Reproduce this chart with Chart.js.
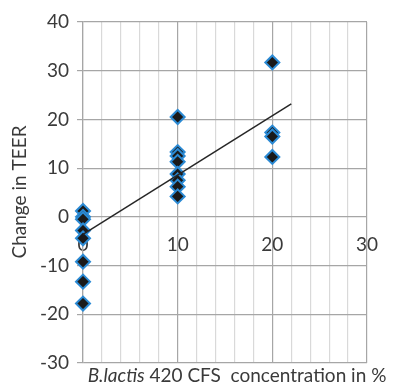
<!DOCTYPE html>
<html>
<head>
<meta charset="utf-8">
<script src="https://cdn.jsdelivr.net/npm/chart.js@4/dist/chart.umd.min.js"></script>
<style>
html,body{margin:0;padding:0;background:#fff;}
#wrap{width:396px;height:389px;position:relative;}
</style>
</head>
<body>
<div id="wrap"><canvas id="c" width="396" height="389"></canvas></div>
<script>
// Concentration (%) per group and measured change in TEER
const conc0 = [1.2, 0, -0.5, -2.8, -4.4, -9.2, -13.3, -17.8];
const conc10 = [20.5, 13.3, 12.5, 11.3, 8.8, 7.5, 6.2, 4.2];
const conc20 = [31.7, 17.3, 16.5, 12.3];
const trendX = [0, 22];
const trendY = [-3.6, 23.2];
const yTicks = [-30, -20, -10, 0, 10, 20, 30, 40];
const xTickLabels = [0, 10, 20, 30];
const yTitle = 'Change in TEER';
const xTitleItalic = 'B.lactis';
const xTitleRest = ' 420 CFS  concentration in %';

const pts = [];
conc0.forEach(v => pts.push({x: 0, y: v}));
conc10.forEach(v => pts.push({x: 10, y: v}));
conc20.forEach(v => pts.push({x: 20, y: v}));
const trend = trendX.map((x, i) => ({x: x, y: trendY[i]}));

const FONT = 'Lato, "Liberation Sans", sans-serif';
const TXT = '#3a3a3a';

const titles = {
  id: 'titles',
  afterDraw(chart) {
    const ctx = chart.ctx;
    ctx.save();
    ctx.fillStyle = TXT;
    // x title
    ctx.textBaseline = 'alphabetic';
    ctx.textAlign = 'left';
    ctx.font = 'italic 19px ' + FONT;
    const w1 = ctx.measureText(xTitleItalic).width;
    ctx.font = '19px ' + FONT;
    const w2 = ctx.measureText(xTitleRest).width;
    let x0 = 237 - (w1 + w2) / 2;
    ctx.font = 'italic 19px ' + FONT;
    ctx.fillText(xTitleItalic, x0, 382);
    ctx.font = '19px ' + FONT;
    ctx.fillText(xTitleRest, x0 + w1, 382);
    // y title
    ctx.translate(20, 192);
    ctx.rotate(-Math.PI / 2);
    ctx.textAlign = 'center';
    ctx.textBaseline = 'middle';
    ctx.font = '19px ' + FONT;
    ctx.fillText(yTitle, 0, 0);
    ctx.restore();
  }
};

new Chart(document.getElementById('c'), {
  type: 'scatter',
  data: {
    datasets: [
      {
        type: 'line',
        data: trend,
        borderColor: '#262626',
        borderWidth: 1.5,
        pointRadius: 0,
        fill: false,
        clip: false
      },
      {
        data: pts,
        pointStyle: 'rectRot',
        pointRadius: 7,
        pointHoverRadius: 7,
        borderWidth: 2,
        borderColor: '#2b8ad4',
        backgroundColor: '#1a1a1a',
        clip: false
      }
    ]
  },
  options: {
    responsive: false,
    animation: false,
    events: [],
    layout: {padding: {left: 0, right: 29, top: 22, bottom: 26}},
    plugins: {legend: {display: false}, tooltip: {enabled: false}},
    scales: {
      x: {
        type: 'linear',
        position: {y: 0},
        min: 0, max: 30,
        border: {display: false},
        grid: {
          drawTicks: false,
          color: c => (c.tick && c.tick.value % 10 === 0) ? '#a6a6a6' : '#d9d9d9',
          lineWidth: 1.2
        },
        ticks: {
          stepSize: 2,
          autoSkip: false,
          maxRotation: 0,
          padding: 17,
          color: TXT,
          font: {family: FONT, size: 19},
          callback: v => xTickLabels.includes(v) ? String(v) : ''
        }
      },
      y: {
        type: 'linear',
        min: yTicks[0], max: yTicks[yTicks.length - 1],
        afterFit: s => { s.width = 83; },
        border: {color: '#a6a6a6', width: 1.2},
        grid: {color: '#a6a6a6', lineWidth: 1.2, tickLength: 6},
        afterBuildTicks: s => { s.ticks = yTicks.map(v => ({value: v})); },
        ticks: {
          padding: 8,
          color: TXT,
          font: {family: FONT, size: 19}
        }
      }
    }
  },
  plugins: [titles]
});
</script>
</body>
</html>
